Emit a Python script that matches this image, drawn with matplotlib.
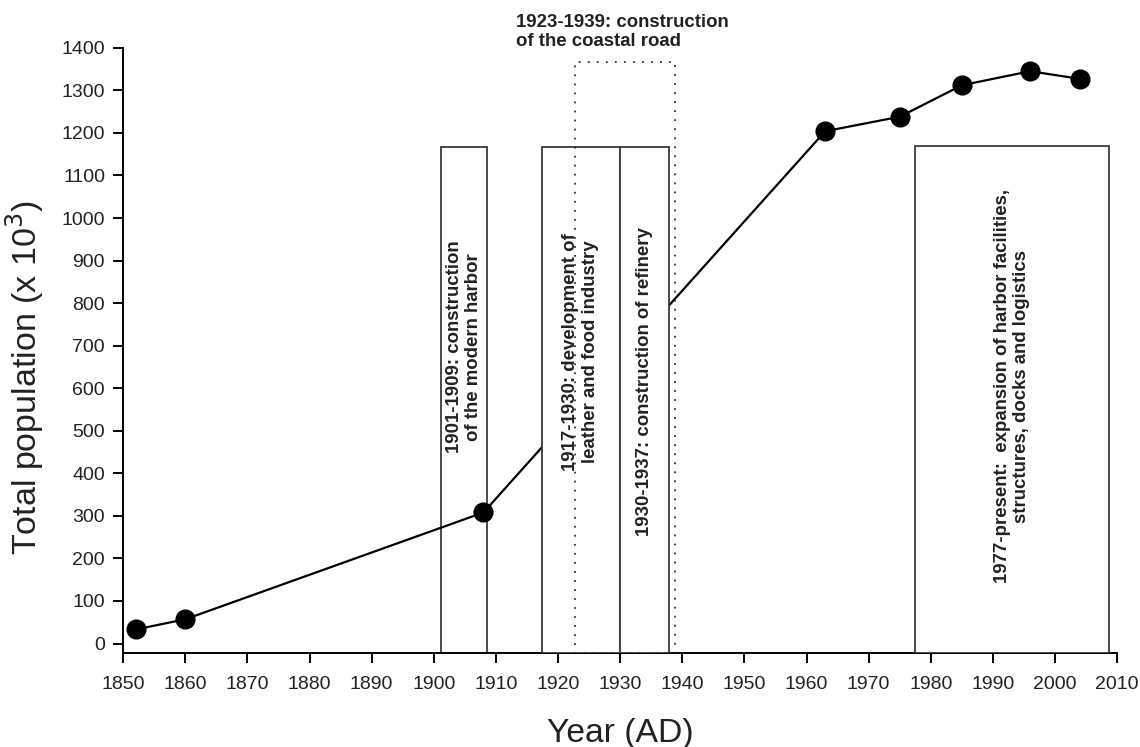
import numpy as np
import matplotlib.pyplot as plt
from matplotlib.patches import Rectangle

plt.rcParams['font.family'] = ['Liberation Sans', 'DejaVu Sans']

# population data (x 10^3)
years = [1852, 1860, 1908, 1963, 1975, 1985, 1996, 2004]
population = [33, 57, 308, 1204, 1238, 1312, 1345, 1327]

# historical periods: start, end, top, label
box_start = [1901.1, 1917.4, 1929.9, 1977.5]
box_end = [1908.6, 1929.9, 1937.8, 2008.6]
box_top = [1167, 1167, 1167, 1170]
box_text = ["1901-1909: construction\nof the modern harbor",
            "1917-1930: development of\nleather and food industry",
            "1930-1937: construction of refinery",
            "1977-present:  expansion of harbor facilities,\nstructures, docks and logistics"]
box_text_y = [697, 686, 616, 605]

road_start, road_end, road_top = 1922.8, 1938.9, 1366
road_text = "1923-1939: construction\nof the coastal road"

ymin = -23

fig = plt.figure(figsize=(11.4, 7.47), dpi=100)
ax = fig.add_axes([0.108, 0.1254, 0.872, 0.8106])

ax.plot(years, population, color='black', lw=1.6, zorder=3)

for i in range(len(box_start)):
    z = 2 if i == 0 else 4
    r = Rectangle((box_start[i], ymin), box_end[i] - box_start[i], box_top[i] - ymin,
                  facecolor='white', edgecolor='#3a3a3a', lw=1.3, zorder=z)
    ax.add_patch(r)
    ax.text((box_start[i] + box_end[i]) / 2, box_text_y[i], box_text[i], rotation=90,
            ha='center', va='center', fontsize=13.4, fontweight='bold',
            color='#222222', multialignment='center', zorder=6)

# coastal road box (dotted)
ax.add_patch(Rectangle((road_start, ymin), road_end - road_start, road_top - ymin,
                       fill=False, edgecolor='#333333', lw=1.3, linestyle=(0, (1, 4)), zorder=5))
ax.text(1913.3, 1437, road_text, ha='left', va='center', fontsize=13.4,
        fontweight='bold', color='#222222', clip_on=False)

ax.plot(years, population, 'o', color='black', ms=13.5, zorder=7)

ax.set_xlim(1850, 2010)
ax.set_ylim(ymin, 1400)
ax.set_xticks(np.arange(1850, 2011, 10))
ax.set_yticks(np.arange(0, 1401, 100))
ax.spines['top'].set_visible(False)
ax.spines['right'].set_visible(False)
ax.spines['left'].set_bounds(ymin, 1400)
for s in ['left', 'bottom']:
    ax.spines[s].set_linewidth(1.4)
ax.tick_params(direction='out', length=7, width=1.4, labelsize=14, colors='black',
               labelcolor='#222222')
ax.tick_params(axis='x', pad=9)
ax.tick_params(axis='y', pad=6)

ax.set_xlabel("Year (AD)", fontsize=24.3, color='#222222', labelpad=18)
ax.set_ylabel("Total population (x 10$^3$)", fontsize=24.5, color='#222222')
ax.yaxis.set_label_coords(-0.078, 0.4546)

plt.savefig("out.png", dpi=100)
